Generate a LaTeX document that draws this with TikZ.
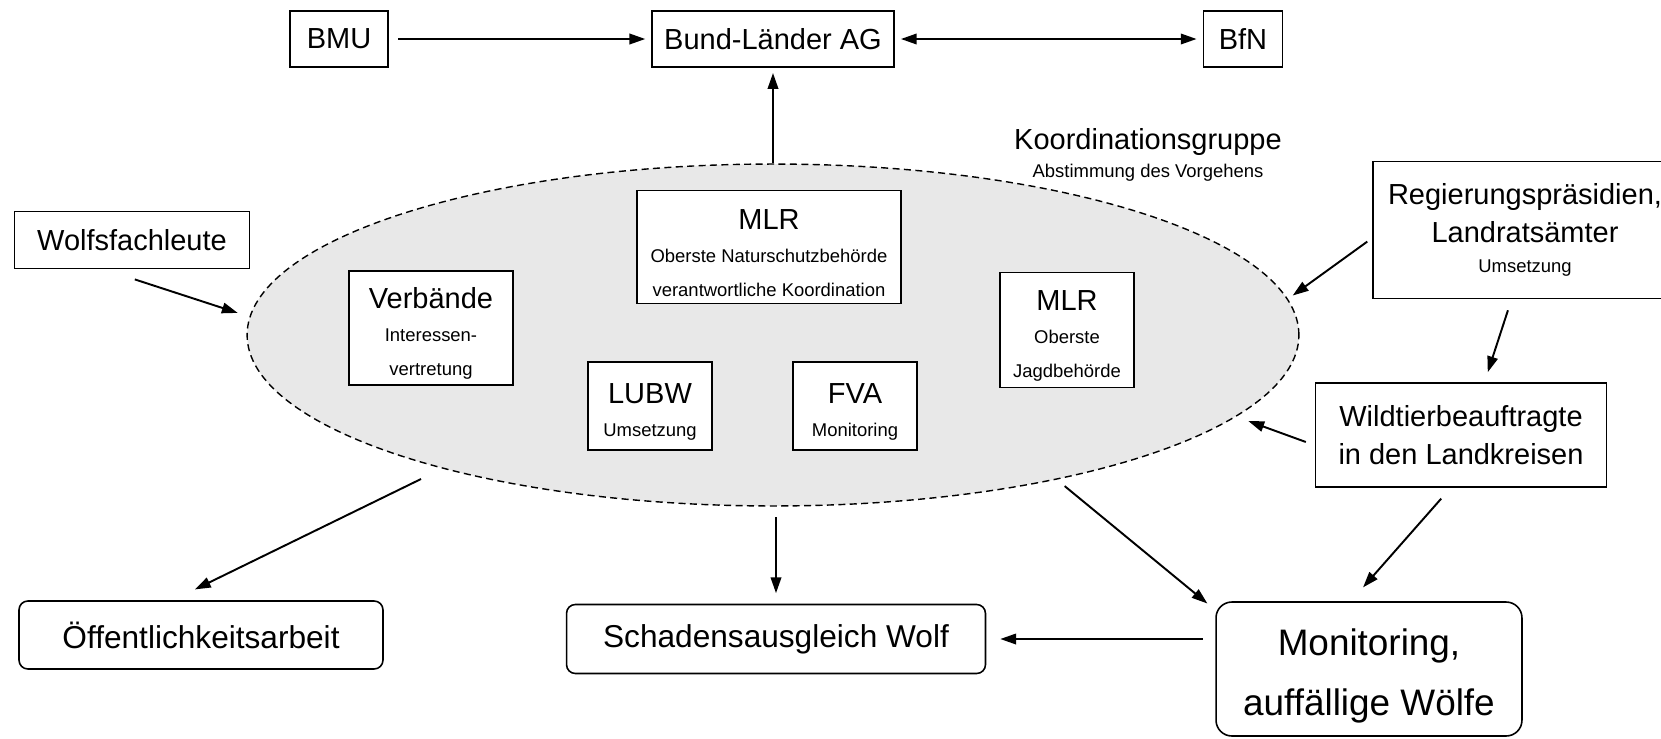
\documentclass[tikz,border=0pt]{standalone}
\usepackage{fontspec}
\setmainfont{Liberation Sans}
\usepackage{tikz}
\usetikzlibrary{shapes}
\usetikzlibrary{arrows.meta}
\usetikzlibrary{calc}
\newcommand{\klein}{\fontsize{10.5}{13}\selectfont}
\newcommand{\hoch}{\rule{0pt}{18pt}}
\tikzstyle{kasten}=[
        rectangle,
        draw,
        line width=0.9pt,
        fill=white,
        align=center,
        inner sep=2pt,
        font=\fontsize{16.5}{19}\selectfont
]
\tikzstyle{rund}=[kasten,rounded corners=5pt,font=\fontsize{18}{21}\selectfont]
\tikzstyle{gruppe}=[ellipse,draw,line width=0.8pt,dash pattern=on 4pt off 2.5pt,
fill=black!9,inner sep=0pt,minimum width=21.04cm,minimum height=6.84cm]
\tikzstyle{titel}=[align=center,inner sep=0pt,font=\fontsize{16.5}{19}\selectfont]
\tikzstyle{pfeil}=[-{Triangle[length=9pt,width=6pt]},line width=1.1pt]
\tikzstyle{doppelpfeil}=[{Triangle[length=9pt,width=6pt]}-{Triangle[length=9pt,width=6pt]},line width=1.1pt]

\begin{document}
\begin{tikzpicture}[x=0.02cm,y=-0.02cm]
\useasboundingbox (0,0) rectangle (1661,738);
\node[gruppe] (kg) at (773,335) {};
\node[kasten,minimum width=1.96cm,minimum height=1.12cm] (bmu) at (339,39) {BMU};
\node[kasten,minimum width=4.84cm,minimum height=1.12cm] (bund) at (773,39) {Bund-Länder AG};
\node[kasten,minimum width=1.58cm,minimum height=1.12cm] (bfn) at (1243,39) {BfN};
\node[titel] (kgtitel) at (1148,155) {Koordinationsgruppe\\[-3.5pt]{\klein Abstimmung des Vorgehens}};
\node[kasten,minimum width=4.7cm,minimum height=1.14cm] (wolfs) at (132,240) {Wolfsfachleute};
\node[kasten,minimum width=5.28cm,minimum height=2.26cm] (mlrn) at (769,247) {\hoch MLR\\{\klein Oberste Naturschutzbehörde}\\{\klein verantwortliche Koordination}};
\node[kasten,minimum width=3.28cm,minimum height=2.28cm] (verb) at (431,328) {\hoch Verbände\\{\klein Interessen-}\\{\klein vertretung}};
\node[kasten,minimum width=2.48cm,minimum height=1.76cm] (lubw) at (650,406) {\hoch LUBW\\{\klein Umsetzung}};
\node[kasten,minimum width=2.48cm,minimum height=1.76cm] (fva) at (855,406) {\hoch FVA\\{\klein Monitoring}};
\node[kasten,minimum width=2.68cm,minimum height=2.3cm] (mlrj) at (1067,330) {\hoch MLR\\{\klein Oberste}\\{\klein Jagdbehörde}};
\node[kasten,minimum width=6.08cm,minimum height=2.74cm] (reg) at (1525,230) {Regierungspräsidien,\\[2.5pt]Landratsämter\\[-2pt]{\klein Umsetzung}};
\node[kasten,minimum width=5.82cm,minimum height=2.08cm] (wild) at (1461,435) {Wildtierbeauftragte\\[2.5pt]in den Landkreisen};
\node[rund,minimum width=7.28cm,minimum height=1.36cm] (oeff) at (201,635) {Öffentlichkeitsarbeit};
\node[rund,minimum width=8.38cm,minimum height=1.38cm] (schaden) at (776,639) {Schadensausgleich Wolf};
\node[rund,rounded corners=9pt,font=\fontsize{21}{25}\selectfont,minimum width=6.12cm,minimum height=2.68cm] (mon) at (1369,669) {\rule{0pt}{23pt}Monitoring,\\[9pt]auffällige Wölfe};
%Pfeile
\draw[pfeil,shorten <=5.5pt,shorten >=3.4pt] (bmu) -- (bund);
\draw[doppelpfeil,shorten <=3.5pt,shorten >=3.5pt] (bund) -- (bfn);
\draw[pfeil,shorten >=3pt] (kg.north) -- (bund.south);
\draw[pfeil,shorten <=18.6pt,shorten >=7pt] (wolfs.226) -- (kg.178);
\draw[pfeil,shorten <=3.5pt,shorten >=3.4pt] (reg.183) -- (kg.4);
\draw[pfeil,shorten <=6.6pt,shorten >=6pt] (reg.259) -- (wild.66);
\draw[pfeil,shorten <=5.4pt,shorten >=7.4pt] (wild.184) -- (kg.-10);
\draw[pfeil,shorten <=8.2pt,shorten >=10.5pt] (wild.259) -- (mon.105);
\draw[pfeil,shorten <=5.8pt,shorten >=5.8pt] (kg.-27) -- (mon.159);
\draw[pfeil,shorten <=6pt,shorten >=6pt] (kg.south -| schaden.north) -- (schaden.north);
\draw[pfeil,shorten <=13.5pt,shorten >=14pt] (kg.202) -- (oeff.129);
\draw[pfeil,shorten <=7pt,shorten >=8pt] (schaden.east -| mon.west) -- (schaden.east);

\end{tikzpicture}
\end{document}
